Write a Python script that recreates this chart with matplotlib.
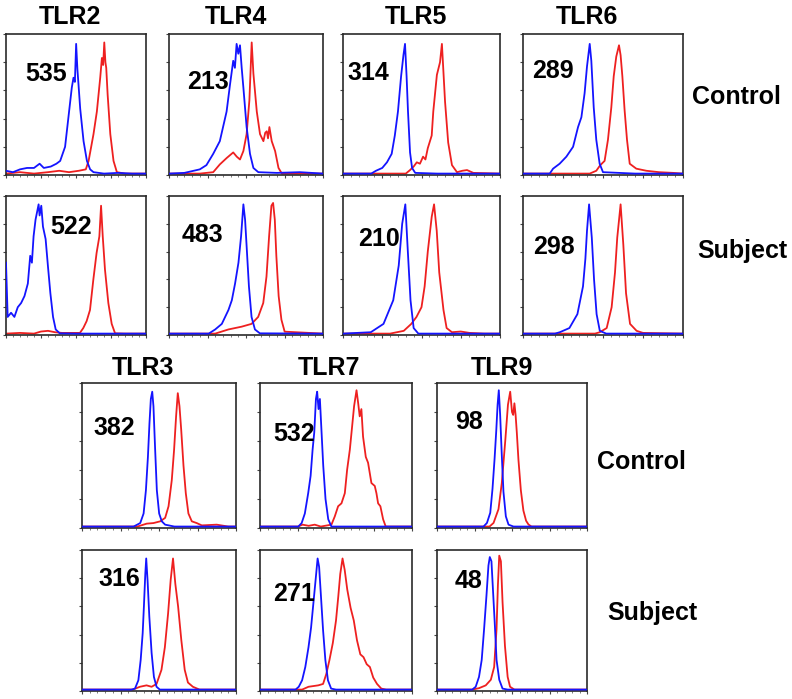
import matplotlib
matplotlib.use("Agg")
import matplotlib.pyplot as plt
from matplotlib.ticker import MultipleLocator

plt.rcParams['font.family'] = ['Liberation Sans', 'DejaVu Sans']

# ---------------- data (x: % of axis, y: % of axis height) ----------------
tlr2_c_blue_x = [0, 5, 10, 15, 20, 24, 27, 32, 36, 38.7, 42.2, 44.6, 47, 48.2, 49.2, 50.1, 51, 51.8, 53, 55.4, 57.8, 60.1, 62.5, 70, 80, 90, 100]
tlr2_c_blue_y = [3, 2, 4, 5, 5, 8, 5, 6, 8, 10, 20, 41, 62, 69, 66, 93, 75, 64, 47, 24, 10, 4, 2, 1, 1.5, 1, 1]
tlr2_c_red_x = [0, 10, 20, 30, 38, 45, 52, 57, 59, 62.5, 64.9, 67.3, 68.5, 69.4, 70.2, 71, 71.6, 72.6, 74.5, 76.8, 79.2, 85, 100]
tlr2_c_red_y = [1, 2, 1, 2, 3, 2, 3, 4, 10, 29, 45, 69, 83, 78, 94, 80, 76, 57, 29, 10, 2, 1, 1]

tlr4_c_blue_x = [0, 10, 20, 24.3, 28.7, 33, 37.4, 39.6, 41.7, 42.8, 43.9, 45, 46.1, 47.2, 48.3, 50.4, 52.6, 54.8, 58, 70, 85, 100]
tlr4_c_blue_y = [1, 1.5, 4, 7, 15, 24, 45, 64, 81, 76, 93, 86, 92, 76, 62, 34, 15, 5, 2, 1.5, 2, 1]
tlr4_c_red_x = [0, 20, 28.7, 33, 37.4, 41.7, 44, 46.1, 48.3, 50.4, 52.2, 53.7, 54.8, 57, 59.1, 61.3, 62.5, 63.5, 64.3, 65.2, 66.7, 68.9, 71.1, 73.3, 80, 100]
tlr4_c_red_y = [1, 1, 2, 7.5, 12, 16, 13, 11, 17, 29, 53, 94, 72, 45, 29, 24, 30, 31, 26, 34, 24, 17, 5, 1, 1, 1]

tlr5_c_blue_x = [0, 18, 21, 25, 28, 31, 33, 35, 37, 38.5, 39.5, 40.5, 41.4, 42.7, 44, 46, 60, 100]
tlr5_c_blue_y = [1, 1, 3, 5, 9, 15, 28, 45, 70, 85, 93, 70, 45, 16, 5, 1.5, 1, 1]
tlr5_c_red_x = [0, 40, 42.7, 45, 47, 49, 51, 52.5, 54, 56.5, 57.5, 59.8, 61.8, 63, 65, 67, 69.4, 72.6, 76, 79, 83, 100]
tlr5_c_red_y = [1, 1, 3.5, 6, 9, 8, 13, 11, 19, 28, 45, 71, 80, 93, 52, 23, 7, 2, 3, 3.5, 1.5, 1]

tlr6_c_blue_x = [0, 16.7, 18.8, 22.9, 27.1, 31.3, 34.4, 36.5, 38.5, 40, 41.7, 42.7, 44.2, 45.8, 47.9, 50, 70, 100]
tlr6_c_blue_y = [1, 1, 4.5, 8, 13, 20, 34, 41, 58, 77, 93, 81, 48, 25, 8, 2, 1, 1]
tlr6_c_red_x = [0, 41.7, 45.8, 48.3, 51, 53.1, 55.2, 56.7, 58.3, 60, 61, 62.1, 63.5, 65, 66.7, 70.8, 77.1, 85, 93.8, 100]
tlr6_c_red_y = [1, 1, 3, 7, 10, 25, 48, 70, 84, 92, 85, 70, 46, 25, 8, 4.5, 3, 2, 1.5, 1]

tlr2_s_blue_x = [0, 1.2, 3.6, 6, 8.4, 10.8, 13.2, 15.6, 17.3, 18.5, 19.7, 21.1, 22.1, 23.3, 24, 25.2, 26.4, 28.3, 30, 31.7, 33.6, 35.5, 38.4, 50, 100]
tlr2_s_blue_y = [52, 13, 16, 13, 20, 23, 28, 37, 57, 52, 71, 83, 88, 94, 86, 93, 78, 69, 49, 30, 13, 4, 1.2, 1, 1]
tlr2_s_red_x = [0, 10, 20, 25, 30, 35, 40, 52.8, 55.2, 57.6, 60, 62.4, 64.7, 66.7, 67.9, 69.1, 70.7, 73.1, 75.5, 77.9, 85, 100]
tlr2_s_red_y = [1, 1.5, 1, 2.5, 3, 2, 1.5, 1.5, 5, 10, 18, 40, 59, 71, 93, 71, 47, 23, 8, 1.2, 1, 1]

tlr4_s_blue_x = [0, 25.8, 30, 34.3, 38.6, 40.8, 42.9, 45.1, 46.8, 48.3, 49.4, 50.4, 51.9, 53.6, 55.8, 59, 100]
tlr4_s_blue_y = [1, 1, 4, 8, 18, 25, 37, 52, 71, 94, 83, 64, 35, 13, 4, 1.2, 1]
tlr4_s_red_x = [0, 30, 38.6, 47.2, 53.6, 57.9, 61.2, 63.3, 65, 66.5, 67.6, 68.7, 69.7, 71.2, 73, 75.1, 100]
tlr4_s_red_y = [1, 1, 4, 6, 8, 13, 23, 42, 71, 93, 95, 83, 57, 28, 11, 2.4, 1]

tlr5_s_blue_x = [0, 17.7, 25.8, 32, 35.5, 37.7, 39.7, 41.3, 43, 45, 48, 100]
tlr5_s_blue_y = [1, 2, 8, 25, 50, 80, 94, 60, 25, 5, 1, 1]
tlr5_s_red_x = [0, 30, 38.7, 43.5, 46.8, 50, 52, 54, 56.5, 58, 59.7, 61.3, 64, 66, 69.4, 75, 80.6, 90, 100]
tlr5_s_red_y = [1, 1, 3, 8, 13, 20, 35, 60, 85, 94, 75, 45, 18, 5, 2, 2.5, 1.5, 1, 1]

tlr6_s_blue_x = [0, 20, 23, 29, 34, 37.5, 39, 40, 41.3, 43, 44.4, 46, 48, 52, 100]
tlr6_s_blue_y = [1, 1, 2, 5, 15, 35, 55, 75, 94, 70, 40, 15, 3, 1, 1]
tlr6_s_red_x = [0, 45, 48, 52.3, 55.4, 57.5, 58.9, 61, 62.7, 64.4, 66.9, 71, 75, 100]
tlr6_s_red_y = [1, 1, 2, 5, 20, 45, 70, 94, 65, 30, 8, 3, 1.5, 1]

tlr3_c_blue_x = [0, 33.5, 37.8, 40, 41.5, 42.8, 43.8, 44.7, 45.6, 46.4, 47.5, 48.6, 50.1, 51.8, 54, 60, 100]
tlr3_c_blue_y = [1, 1, 3.4, 10, 26, 49, 72, 89, 94, 84, 54, 26, 10, 4.6, 2.3, 1, 1]
tlr3_c_red_x = [0, 36, 42, 46.4, 50.8, 54, 56.2, 58.3, 59.8, 61.1, 62.2, 63.3, 64.4, 65.9, 67.4, 69.1, 71.3, 74.5, 77.8, 87.5, 95, 100]
tlr3_c_red_y = [1, 1, 3, 3.4, 4.6, 7, 15, 33, 54, 77, 93, 84, 68, 43, 24, 10, 4.6, 3.4, 1.8, 2.3, 1, 1]

tlr3_s_blue_x = [0, 32, 34.4, 36.6, 38.1, 39.4, 40.2, 41.1, 41.7, 42.6, 43.7, 45.2, 46.7, 48.4, 50.5, 100]
tlr3_s_blue_y = [1, 1, 1.7, 7.6, 22, 41, 60, 83, 94, 78, 53, 27, 10, 3, 1, 1]
tlr3_s_red_x = [0, 33, 37.6, 41.9, 45.2, 48.4, 51.6, 53.8, 55.9, 57.6, 59.1, 60.6, 62.4, 64.5, 66.7, 68.8, 72, 76.3, 100]
tlr3_s_red_y = [1, 1, 3, 4, 3, 5, 15, 31, 55, 79, 94, 76, 60, 36, 15, 6, 3, 1, 1]

tlr7_c_blue_x = [0, 25.2, 27.4, 29.5, 31.7, 33.3, 34.6, 35.7, 36.8, 37.6, 38.5, 39.4, 40.5, 41.6, 43.1, 44.9, 47, 100]
tlr7_c_blue_y = [1, 1, 3.4, 10, 24, 36, 54, 66, 89, 94, 82, 89, 66, 43, 20, 6, 1, 1]
tlr7_c_red_x = [0, 25, 28, 32, 36, 40, 47, 49.2, 51.4, 53.6, 55.8, 57.3, 59.1, 60.6, 61.9, 63.5, 64.6, 65.6, 66.7, 67.8, 69.6, 71.1, 73.3, 75.5, 76.6, 77.7, 79.2, 81, 82.7, 100]
tlr7_c_red_y = [1, 1, 2.3, 1.5, 2.3, 1, 2.3, 8, 15, 17, 24, 40, 54, 70, 84, 95, 86, 77, 82, 63, 49, 45, 31, 29, 24, 17, 15, 6, 1, 1]

tlr9_c_blue_x = [0, 31, 33.3, 35.5, 37, 38.4, 39.5, 40.4, 41.2, 42.1, 43.2, 44.3, 45.9, 47.7, 51, 100]
tlr9_c_blue_y = [1, 1, 3.5, 10.5, 27, 48, 67, 85, 95, 78, 50, 25, 8, 2.3, 1, 1]
tlr9_c_red_x = [0, 35, 37.7, 41, 43.2, 45.5, 47.3, 48.8, 50, 50.8, 51.6, 52.4, 53.2, 54.3, 55.9, 57.6, 59.4, 61, 63, 100]
tlr9_c_red_y = [1, 1, 3.5, 13, 31, 60, 85, 94, 80, 78, 86, 78, 66, 47, 26, 12, 5, 2.4, 1, 1]

tlr7_s_blue_x = [0, 23.4, 25.5, 27.7, 29.8, 31.9, 33.6, 35.1, 36.6, 37.9, 38.9, 40, 41.5, 43, 44.7, 46.8, 50, 100]
tlr7_s_blue_y = [1, 1, 3, 7.6, 17, 31, 45, 62, 79, 94, 88, 69, 43, 22, 7.6, 1.7, 1, 1]
tlr7_s_red_x = [0, 27.7, 31.9, 38.3, 41.5, 43.6, 45.7, 47.9, 50, 51.5, 52.8, 54.3, 55.7, 57.4, 59.6, 61.7, 63.8, 66, 68.1, 70.2, 72.3, 74.5, 77, 79.8, 83, 100]
tlr7_s_red_y = [1, 1, 3, 4, 5, 12, 22, 34, 50, 67, 83, 94, 86, 72, 59, 50, 36, 26, 24, 19, 17, 9.5, 5, 1.7, 1, 1]

tlr9_s_blue_x = [0, 23.5, 25.8, 28, 29.8, 31.4, 33, 34.3, 35.2, 36.3, 37.4, 38.6, 39.7, 41.5, 43.7, 47.1, 100]
tlr9_s_blue_y = [1, 1, 3, 10, 22, 44, 68, 89, 95, 92, 70, 46, 22, 8, 1.7, 1, 1]
tlr9_s_red_x = [0, 23.5, 28, 32.5, 35.9, 38.1, 39.7, 40.6, 41.5, 42.6, 43.7, 45.3, 47.1, 48.7, 51.6, 100]
tlr9_s_red_y = [1, 1, 2, 4, 8, 17, 44, 75, 96, 92, 63, 32, 10, 3, 1, 1]

titles_top = ["TLR2", "TLR4", "TLR5", "TLR6"]
titles_bottom = ["TLR3", "TLR7", "TLR9"]
values_top_control = ["535", "213", "314", "289"]
values_top_subject = ["522", "483", "210", "298"]
values_bottom_control = ["382", "532", "98"]
values_bottom_subject = ["316", "271", "48"]
row_labels = ["Control", "Subject"]

# ---------------- layout ----------------
W, H = 792, 699
fig = plt.figure(figsize=(W / 100, H / 100), dpi=100)
fig.patch.set_facecolor('white')

BLUE = '#1414ff'
RED = '#ee2020'
FS = 18


def fx(x):
    return x / W


def fy(y):
    return 1 - y / H


def panel(box, blue, red, label, lab_xy):
    l, r, t, b = box
    ax = fig.add_axes([fx(l), fy(b), (r - l) / W, (b - t) / H])
    ax.plot(red[0], red[1], color=RED, lw=1.3, zorder=2)
    ax.plot(blue[0], blue[1], color=BLUE, lw=1.3, zorder=3)
    ax.set_xlim(0, 100)
    ax.set_ylim(0, 100)
    ax.xaxis.set_major_locator(MultipleLocator(25))
    ax.xaxis.set_minor_locator(MultipleLocator(5))
    ax.yaxis.set_major_locator(MultipleLocator(20))
    ax.tick_params(which='major', direction='out', length=2.5, width=0.8, color='#444444',
                   labelbottom=False, labelleft=False)
    ax.tick_params(which='minor', direction='out', length=1.2, width=0.6, color='#666666')
    for s in ax.spines.values():
        s.set_color('#2a2a2a')
        s.set_linewidth(1.2)
    fig.text(fx(lab_xy[0]), fy(lab_xy[1]), label, ha='left', va='center',
             fontsize=FS, fontweight='bold')
    return ax


top_boxes_x = [(6, 146), (169, 323), (343, 500), (523, 683)]
row1_y = (34, 175)
row2_y = (196, 335)
bot_boxes_x = [(82, 236), (260, 412), (437, 587)]
row3_y = (383, 528)
row4_y = (550, 691)

top_c = [((tlr2_c_blue_x, tlr2_c_blue_y), (tlr2_c_red_x, tlr2_c_red_y)),
         ((tlr4_c_blue_x, tlr4_c_blue_y), (tlr4_c_red_x, tlr4_c_red_y)),
         ((tlr5_c_blue_x, tlr5_c_blue_y), (tlr5_c_red_x, tlr5_c_red_y)),
         ((tlr6_c_blue_x, tlr6_c_blue_y), (tlr6_c_red_x, tlr6_c_red_y))]
top_s = [((tlr2_s_blue_x, tlr2_s_blue_y), (tlr2_s_red_x, tlr2_s_red_y)),
         ((tlr4_s_blue_x, tlr4_s_blue_y), (tlr4_s_red_x, tlr4_s_red_y)),
         ((tlr5_s_blue_x, tlr5_s_blue_y), (tlr5_s_red_x, tlr5_s_red_y)),
         ((tlr6_s_blue_x, tlr6_s_blue_y), (tlr6_s_red_x, tlr6_s_red_y))]
bot_c = [((tlr3_c_blue_x, tlr3_c_blue_y), (tlr3_c_red_x, tlr3_c_red_y)),
         ((tlr7_c_blue_x, tlr7_c_blue_y), (tlr7_c_red_x, tlr7_c_red_y)),
         ((tlr9_c_blue_x, tlr9_c_blue_y), (tlr9_c_red_x, tlr9_c_red_y))]
bot_s = [((tlr3_s_blue_x, tlr3_s_blue_y), (tlr3_s_red_x, tlr3_s_red_y)),
         ((tlr7_s_blue_x, tlr7_s_blue_y), (tlr7_s_red_x, tlr7_s_red_y)),
         ((tlr9_s_blue_x, tlr9_s_blue_y), (tlr9_s_red_x, tlr9_s_red_y))]

lab_top_c = [(25, 74), (187, 82), (347, 73), (532, 71)]
lab_top_s = [(50, 227), (182, 235), (358, 239), (533, 247)]
lab_bot_c = [(93, 428), (273, 434), (455, 422)]
lab_bot_s = [(98, 579), (273, 594), (455, 581)]

for i, (xl, xr) in enumerate(top_boxes_x):
    panel((xl, xr, row1_y[0], row1_y[1]), top_c[i][0], top_c[i][1], values_top_control[i], lab_top_c[i])
    panel((xl, xr, row2_y[0], row2_y[1]), top_s[i][0], top_s[i][1], values_top_subject[i], lab_top_s[i])
for i, (xl, xr) in enumerate(bot_boxes_x):
    panel((xl, xr, row3_y[0], row3_y[1]), bot_c[i][0], bot_c[i][1], values_bottom_control[i], lab_bot_c[i])
    panel((xl, xr, row4_y[0], row4_y[1]), bot_s[i][0], bot_s[i][1], values_bottom_subject[i], lab_bot_s[i])

title_top_pos = [(70, 17), (236, 17), (416, 17), (587, 17)]
title_bot_pos = [(143, 368), (329, 368), (502, 368)]
for t, (x, y) in zip(titles_top, title_top_pos):
    fig.text(fx(x), fy(y), t, ha='center', va='center', fontsize=FS, fontweight='bold')
for t, (x, y) in zip(titles_bottom, title_bot_pos):
    fig.text(fx(x), fy(y), t, ha='center', va='center', fontsize=FS, fontweight='bold')

row_label_pos = [(692, 97), (697, 251), (597, 462), (607, 613)]
for lab, (x, y) in zip(row_labels * 2, row_label_pos):
    fig.text(fx(x), fy(y), lab, ha='left', va='center', fontsize=FS, fontweight='bold')

fig.savefig('out.png', dpi=100, facecolor='white')
